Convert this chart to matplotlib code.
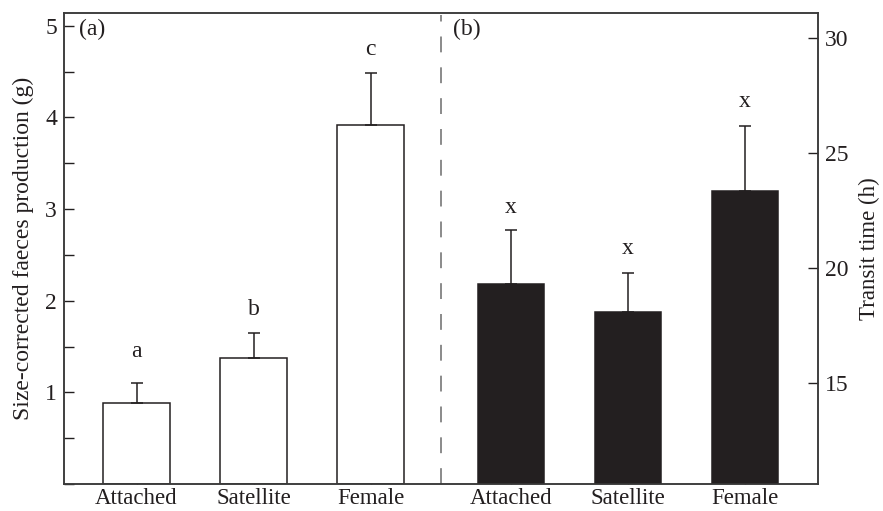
import numpy as np
import matplotlib
matplotlib.use('Agg')
import matplotlib.pyplot as plt
from matplotlib.ticker import MultipleLocator

plt.rcParams['font.family'] = ['Liberation Serif', 'DejaVu Serif']

# data
groups = ['Attached', 'Satellite', 'Female']
faeces = [0.88, 1.375, 3.92]
faeces_se = [0.225, 0.275, 0.57]
faeces_letters = ['a', 'b', 'c']
faeces_letter_y = [1.45, 1.90, 4.74]
transit = [19.3, 18.1, 23.37]
transit_se = [2.35, 1.7, 2.8]
transit_letters = ['x', 'x', 'x']
transit_letter_y = [22.65, 20.87, 27.24]

ink = '#231f20'
pos_a = np.array([0, 1, 2])
pos_b = np.array([3.2, 4.2, 5.2])
width = 0.57
fs = 17

fig = plt.figure(figsize=(8.83, 5.11), dpi=100)
ax = fig.add_axes([0.0725, 0.0528, 0.8535, 0.9218])
ax2 = ax.twinx()

# panel (a): white bars, left axis
ax.bar(pos_a, faeces, width, color='white', edgecolor=ink, linewidth=1.1, zorder=2)
ax.errorbar(pos_a, faeces, yerr=[np.zeros(3), faeces_se], fmt='none', ecolor=ink,
            elinewidth=1.1, capsize=4.5, capthick=1.1, zorder=3)
for x, y, t in zip(pos_a, faeces_letter_y, faeces_letters):
    ax.text(x, y, t, ha='center', va='center', fontsize=fs, color=ink)

# panel (b): black bars, right axis
ax2.bar(pos_b, transit, width, color=ink, edgecolor=ink, linewidth=1.1, zorder=2)
ax2.errorbar(pos_b, transit, yerr=[np.zeros(3), transit_se], fmt='none', ecolor=ink,
             elinewidth=1.1, capsize=4.5, capthick=1.1, zorder=3)
for x, y, t in zip(pos_b, transit_letter_y, transit_letters):
    ax2.text(x, y, t, ha='center', va='center', fontsize=fs, color=ink)

ax.axvline(2.6, color='#777777', lw=1.2, linestyle=(0, (9.5, 9)), ymin=0.0, ymax=0.995)

ax.set_xlim(-0.62, 5.82)
ax.set_ylim(0, 5.14)
ax2.set_ylim(10.6, 31.1)

ax.set_xticks(np.concatenate([pos_a, pos_b]))
ax.set_xticklabels(groups + groups)
ax.set_yticks([1, 2, 3, 4, 5])
ax.yaxis.set_minor_locator(MultipleLocator(0.5))
ax2.set_yticks([15, 20, 25, 30])

ax.tick_params(axis='both', which='both', direction='in', length=7, width=1,
               color=ink, labelsize=fs, labelcolor=ink, pad=5)
ax.tick_params(axis='x', pad=3, labelsize=16.5)
ax2.tick_params(axis='y', direction='in', length=7, width=1, color=ink,
                labelsize=fs, labelcolor=ink, pad=5)

for a in (ax, ax2):
    for sp in a.spines.values():
        sp.set_color('#3a3a3a')
        sp.set_linewidth(1.1)

ax.set_ylabel('Size-corrected faeces production (g)', fontsize=fs, color=ink, labelpad=8)
ax2.set_ylabel('Transit time (h)', fontsize=16.5, color=ink, labelpad=8, rotation=90)

ax.text(0.02, 0.965, '(a)', transform=ax.transAxes, ha='left', va='center', fontsize=fs, color=ink)
ax.text(0.516, 0.965, '(b)', transform=ax.transAxes, ha='left', va='center', fontsize=fs, color=ink)

fig.savefig('out.png', dpi=100)
